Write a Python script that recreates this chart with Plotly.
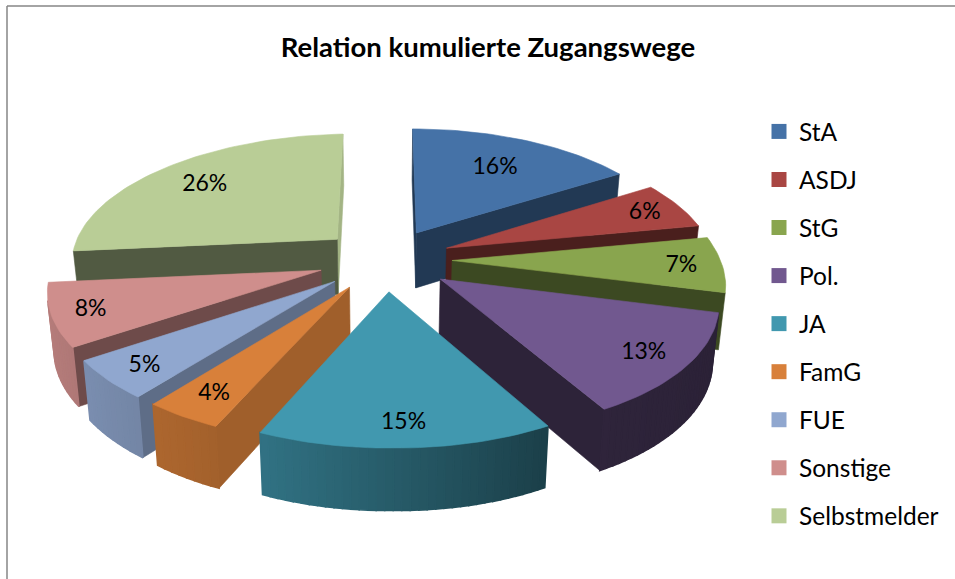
import numpy as np
import plotly.graph_objects as go

TITLE = "Relation kumulierte Zugangswege"
CATEGORIES = ["StA", "ASDJ", "StG", "Pol.", "JA", "FamG", "FUE", "Sonstige", "Selbstmelder"]
VALUES = [16, 6, 7, 13, 15, 4, 5, 8, 26]
COLORS = ["#4572A7", "#A94643", "#89A54E", "#71588F", "#4198AF", "#D8803A", "#90A7CF", "#CF8E8C", "#B9CD96"]
START_SHADE = [0.5, 0.44, 0.45, 0.4, 0.6, 0.74, 0.65, 0.53, 0.44]
END_SHADE = [0.5, 0.44, 0.44, 0.4, 0.4, 0.6, 0.6, 0.6, 0.88]
LABEL_RADIUS = [0.70, 0.85, 0.85, 0.84, 0.85, 0.83, 0.85, 0.86, 0.76]
DRAW_ORDER = [0, 8, 1, 7, 2, 6, 3, 5, 4]

CX, CY = 385.0, 259.5
A, B, K = 268.0, 125.0, 0.137
SHEAR, ROLL = 7.0, 4.0
EXPLODE = 0.25
LABEL_DY = 2.0
FONT = "Lato, Carlito, Calibri, sans-serif"


def project(X, Z):
    X, Z = np.asarray(X, float), np.asarray(Z, float)
    d = 1 + K * Z
    return CX + A * X / d - SHEAR * np.minimum(Z, 0), CY - B * Z / d - ROLL * np.minimum(X, 0)


def drop(x, y):
    return CX + (x - CX) * 0.98, y + 55 + 0.035 * (y - 233)


def shade(color, f):
    r, g, b = [int(color[i:i + 2], 16) for i in (1, 3, 5)]
    return f"rgb({r * f:.0f},{g * f:.0f},{b * f:.0f})"


def signed_area(xs, ys):
    xs, ys = np.asarray(xs, float), np.asarray(ys, float)
    return 0.5 * np.sum(xs * np.roll(ys, -1) - np.roll(xs, -1) * ys)


def poly(xs, ys, color, width=0.6):
    xs, ys = [float(v) for v in xs], [float(v) for v in ys]
    return go.Scatter(x=xs + [xs[0]], y=ys + [ys[0]], mode="lines", fill="toself",
                      fillcolor=color, line=dict(color=color, width=width),
                      hoverinfo="skip", showlegend=False)


fig = go.Figure()
edges = np.radians(np.concatenate([[0], np.cumsum(VALUES)]) * 360 / sum(VALUES))
mids = (edges[:-1] + edges[1:]) / 2

for i in DRAW_ORDER:
    a0, a1, m, col = edges[i], edges[i + 1], mids[i], COLORS[i]
    ox, oz = EXPLODE * np.sin(m), EXPLODE * np.cos(m)
    angs = np.linspace(a0, a1, max(6, int(np.degrees(a1 - a0) / 1.5)))
    px, py = project(ox + np.sin(angs), oz + np.cos(angs))
    bx, by = drop(px, py)
    ax, ay = project(ox, oz)
    abx, aby = drop(ax, ay)

    # the two cut faces: only those that face the viewer
    faces = []
    sx, sy = [ax, px[0], bx[0], abx], [ay, py[0], by[0], aby]
    ex, ey = [abx, bx[-1], px[-1], ax], [aby, by[-1], py[-1], ay]
    if signed_area(sx, sy) < 0:
        faces.append((sx, sy, START_SHADE[i], oz + np.cos(a0) / 2))
    if signed_area(ex, ey) < 0:
        faces.append((ex, ey, END_SHADE[i], oz + np.cos(a1) / 2))
    for fx, fy, f, _ in sorted(faces, key=lambda t: -t[3]):
        fig.add_trace(poly(fx, fy, shade(col, f)))

    # outer rim, shaded by its direction, in narrow overlapping bands
    for j in range(len(angs) - 1):
        qx = [px[j], px[j + 1], bx[j + 1], bx[j]]
        qy = [py[j], py[j + 1], by[j + 1], by[j]]
        if signed_area(qx, qy) < 0:
            n = np.sin((angs[j] + angs[j + 1]) / 2)
            f = np.interp(n, [-1, -0.45, 0.5, 1], [0.88, 0.76, 0.41, 0.38])
            fig.add_trace(poly(qx, qy, shade(col, f), width=1.6))

    fig.add_trace(poly([ax, *px], [ay, *py], col))

# value labels
lab_r = np.array(LABEL_RADIUS) + EXPLODE
lx, ly = project(lab_r * np.sin(mids), lab_r * np.cos(mids))
fig.add_trace(go.Scatter(x=lx, y=ly + LABEL_DY, mode="text", text=[f"{v}%" for v in VALUES],
                         textfont=dict(family=FONT, size=23, color="#000000"),
                         hoverinfo="skip", showlegend=False))

# legend
for name, col in zip(CATEGORIES, COLORS):
    fig.add_trace(go.Scatter(x=[None], y=[None], mode="markers", name=name, legendgroup=name,
                             marker=dict(symbol="square", size=15, color=col)))

fig.update_layout(
    width=955, height=579, margin=dict(l=0, r=0, t=0, b=0),
    paper_bgcolor="white", plot_bgcolor="white",
    xaxis=dict(range=[0, 955], visible=False, fixedrange=True),
    yaxis=dict(range=[579, 0], visible=False, fixedrange=True),
    title=dict(text=f"<b>{TITLE}</b>", x=488 / 955, xanchor="center", y=1 - 47 / 579, yanchor="middle",
               font=dict(family=FONT, size=27.5, color="#000000")),
    legend=dict(x=759 / 955, xanchor="left", y=1 - 109 / 579, yanchor="top", bgcolor="rgba(0,0,0,0)",
                tracegroupgap=13.2, font=dict(family=FONT, size=24.5, color="#000000"),
                itemclick=False, itemdoubleclick=False),
    shapes=[
        dict(type="line", xref="x", yref="y", x0=7, x1=955, y0=6, y1=6, line=dict(color="#868686", width=1.5)),
        dict(type="line", xref="x", yref="y", x0=7, x1=7, y0=6, y1=579, line=dict(color="#868686", width=1.5)),
    ],
)
fig.write_html("out.html", config=dict(displayModeBar=False),
               post_script="document.body.style.margin='0';document.documentElement.style.overflow='hidden';")
